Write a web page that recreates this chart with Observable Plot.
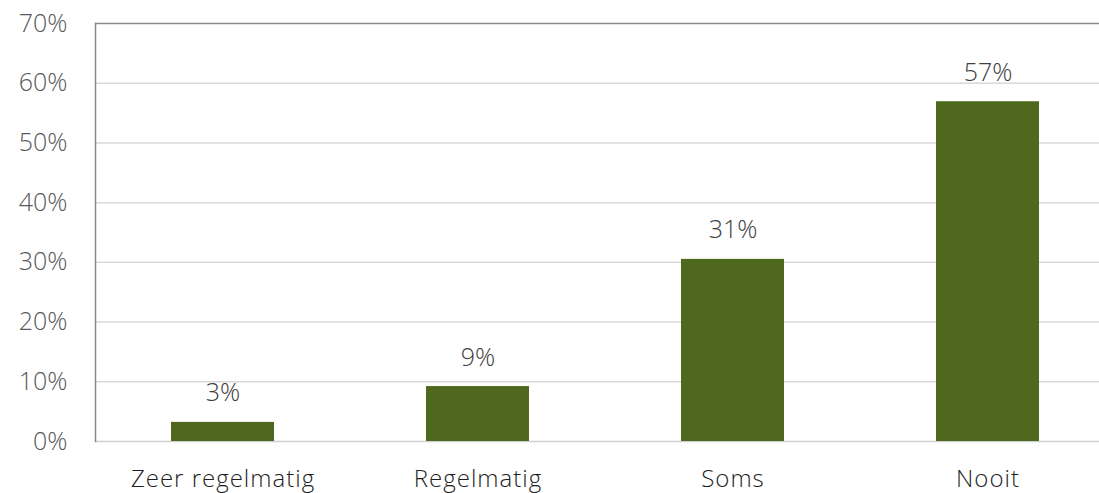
<!DOCTYPE html>
<html>
<head>
<meta charset="utf-8">
<script src="https://cdn.jsdelivr.net/npm/d3@7"></script>
<script src="https://cdn.jsdelivr.net/npm/@observablehq/plot@0.6"></script>
<style>
  html, body { margin: 0; padding: 0; background: #fff; }
  svg { display: block; }
  .xaxis text { letter-spacing: 1px; }
</style>
</head>
<body>
<div id="chart"></div>
<script>
const categories = ["Zeer regelmatig", "Regelmatig", "Soms", "Nooit"];
const values = [3.2, 9.2, 30.5, 56.9];
const valueLabels = ["3%", "9%", "31%", "57%"];
const yTicks = [0, 10, 20, 30, 40, 50, 60, 70];

const data = categories.map((c, i) => ({category: c, value: values[i], label: valueLabels[i]}));

const fontFamily = "'Open Sans', sans-serif";

const chart = Plot.plot({
  width: 1099,
  height: 493,
  marginTop: 23,
  marginBottom: 52,
  marginLeft: 95,
  marginRight: 0,
  style: {fontFamily, background: "#fff"},
  x: {domain: categories, range: [95, 1115], paddingInner: 0.596, paddingOuter: 0.298, label: null},
  y: {domain: [0, 70], range: [441, 23], label: null},
  marks: [
    Plot.ruleY(yTicks.filter(d => d > 0 && d < 70), {stroke: "#d9d9d9", strokeWidth: 1.5}),
    Plot.ruleY([0], {stroke: "#d0d0d0", strokeWidth: 1.5}),
    Plot.ruleY([70], {stroke: "#8a8a8a", strokeWidth: 1.5}),
    Plot.frame({anchor: "left", stroke: "#8a8a8a", strokeWidth: 1.5}),
    Plot.barY(data, {x: "category", y: "value", fill: "#4e691d"}),
    Plot.text(data, {x: "category", y: "value", text: "label", dy: -29, fontSize: 25, fill: "#404040", fontWeight: 300}),
    Plot.axisY({ticks: yTicks, tickFormat: d => d + "%", tickSize: 0, tickPadding: 28, fontSize: 25, fill: "#595959", fontWeight: 300}),
    Plot.axisX({className: "xaxis", tickSize: 0, tickPadding: 28, fontSize: 24, fill: "#1e1e1e", fontWeight: 300})
  ]
});
document.getElementById("chart").append(chart);
</script>
</body>
</html>
